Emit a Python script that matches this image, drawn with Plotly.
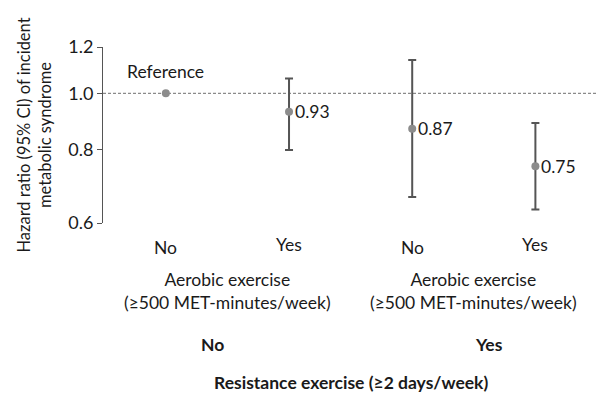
import math
import plotly.graph_objects as go

# Data
x_pos = [0, 1, 2, 3]
aerobic_labels = ["No", "Yes", "No", "Yes"]
hr = [1.00, 0.93, 0.87, 0.75]
ci_low = [None, 0.80, 0.665, 0.633]
ci_high = [None, 1.06, 1.14, 0.89]
value_labels = ["", "0.93", "0.87", "0.75"]
resistance_labels = ["No", "Yes"]
y_ticks = [0.6, 0.8, 1.0, 1.2]
y_ticktext = ["0.6", "0.8", "1.0", "1.2"]

FONT = "Lato, 'Open Sans', sans-serif"
TXT = "#1a1a1a"
FS = 17.5

err_plus = [0 if h is None else h - v for v, h in zip(hr, ci_high)]
err_minus = [0 if l is None else v - l for v, l in zip(hr, ci_low)]

fig = go.Figure()

# reference dashed line
fig.add_trace(go.Scatter(
    x=[-0.51, 3.5], y=[1.0, 1.0], mode="lines",
    line=dict(color="#8a8a8a", width=1.2, dash="3px,2px"),
    hoverinfo="skip", showlegend=False))

# error bars (only where CI exists)
fig.add_trace(go.Scatter(
    x=x_pos[1:], y=hr[1:], mode="markers",
    marker=dict(color="#8c8c8c", size=8),
    error_y=dict(type="data", symmetric=False, array=err_plus[1:], arrayminus=err_minus[1:],
                 color="#555555", thickness=2, width=4),
    showlegend=False))

# reference point
fig.add_trace(go.Scatter(
    x=[x_pos[0]], y=[hr[0]], mode="markers",
    marker=dict(color="#8c8c8c", size=8), showlegend=False))

annotations = [dict(x=x_pos[0], y=math.log10(hr[0]), xref="x", yref="y", text="Reference",
                    showarrow=False, yanchor="middle", yshift=22,
                    font=dict(family=FONT, size=FS, color=TXT))]
for xp, v, lab in zip(x_pos[1:], hr[1:], value_labels[1:]):
    annotations.append(dict(x=xp, y=math.log10(v), xref="x", yref="y", text=lab,
                            showarrow=False, xanchor="left", yanchor="middle", xshift=4,
                            font=dict(family=FONT, size=FS, color=TXT)))
for xp, lab in zip(x_pos, aerobic_labels):
    annotations.append(dict(x=xp, y=-0.14 + (0.018 if lab == "Yes" else 0), xref="x", yref="paper", text=lab,
                            showarrow=False, yanchor="middle",
                            font=dict(family=FONT, size=FS, color=TXT)))
for xc in [0.5, 2.5]:
    annotations.append(dict(x=xc, y=-0.384, xref="x", yref="paper",
                            text="Aerobic exercise<br>(≥500 MET-minutes/week)",
                            showarrow=False, yanchor="middle",
                            font=dict(family=FONT, size=FS, color=TXT)))
for xc, lab in zip([0.38, 2.62], resistance_labels):
    annotations.append(dict(x=xc, y=-0.69, xref="x", yref="paper", text="<b>" + lab + "</b>",
                            showarrow=False, yanchor="middle",
                            font=dict(family=FONT, size=FS, color=TXT)))
annotations.append(dict(x=1.5, y=-0.905, xref="x", yref="paper",
                        text="<b>Resistance exercise (≥2 days/week)</b>",
                        showarrow=False, yanchor="middle",
                        font=dict(family=FONT, size=FS, color=TXT)))

fig.update_layout(
    width=605, height=402,
    margin=dict(l=95, r=16, t=39, b=187),
    plot_bgcolor="white", paper_bgcolor="white",
    font=dict(family=FONT, size=FS, color=TXT),
    annotations=annotations,
    xaxis=dict(range=[-0.51, 3.5], showgrid=False, zeroline=False,
               showticklabels=False, showline=False, ticks=""),
    yaxis=dict(type="log", range=[math.log10(0.6), math.log10(1.2)],
               tickvals=y_ticks, ticktext=y_ticktext,
               showgrid=False, zeroline=False, showline=True, linecolor="#555555", linewidth=1,
               ticks="outside", ticklen=5, tickcolor="#555555",
               tickfont=dict(family=FONT, size=18, color=TXT),
               title=dict(text="Hazard ratio (95% CI) of incident<br>metabolic syndrome",
                          font=dict(family=FONT, size=16.5, color=TXT), standoff=12)),
)

fig.write_html("out.html")
